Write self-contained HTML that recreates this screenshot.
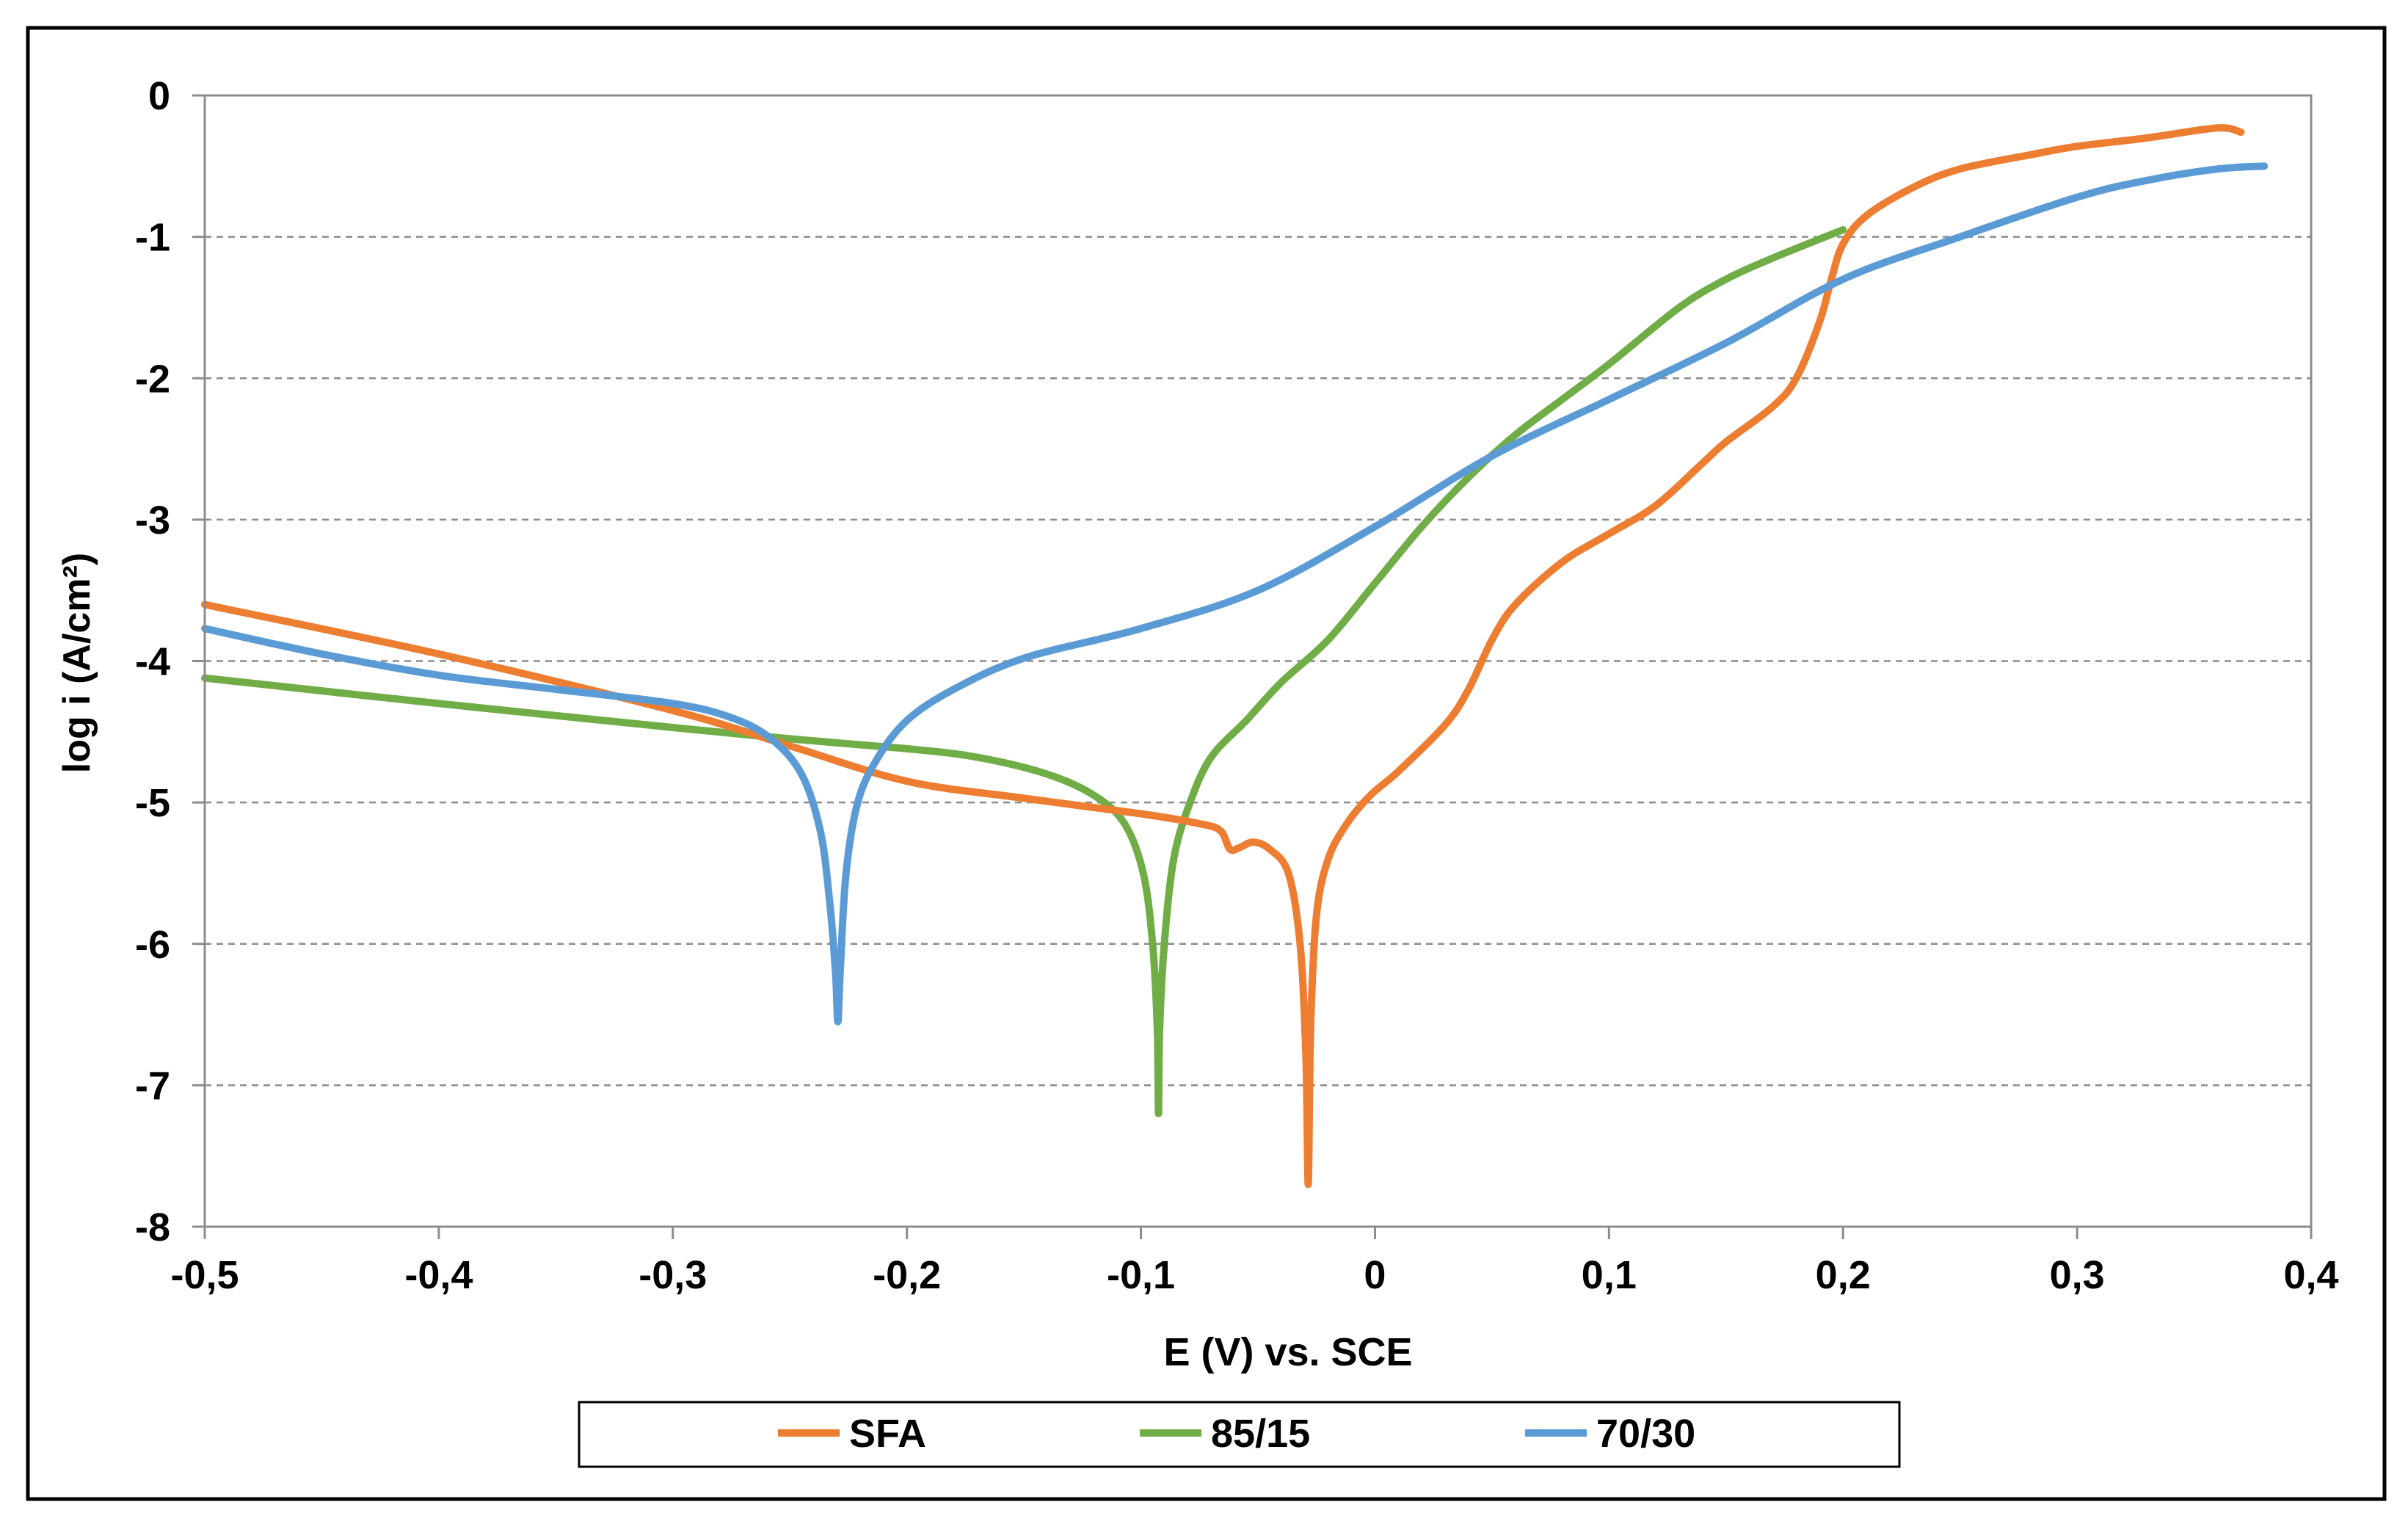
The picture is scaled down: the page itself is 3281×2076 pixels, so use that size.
<!DOCTYPE html>
<html><head><meta charset="utf-8"><style>
html,body{margin:0;padding:0;background:#fff;}
svg{display:block;font-family:"Liberation Sans",Arial,sans-serif;font-weight:bold;}
</style></head><body>
<svg id="chart" width="3281" height="2076" viewBox="0 0 3281 2076">
<rect x="38" y="38" width="3211" height="2004" fill="#fff" stroke="#000" stroke-width="5"/>
<g id="grid"></g>
<g id="series"></g>
<g id="axes"></g>
<text x="1755" y="1860" font-size="54" text-anchor="middle">E (V) vs. SCE</text>
<text transform="translate(122,903) rotate(-90)" font-size="52" text-anchor="middle">log i (A/cm²)</text>
<g>
<rect x="789" y="1910" width="1799" height="88" fill="#fff" stroke="#000" stroke-width="3"/>
<g><line x1="1060" y1="1952" x2="1144" y2="1952" stroke="#ED7D31" stroke-width="10"/><text x="1157" y="1971" font-size="54">SFA</text></g>
<g><line x1="1553" y1="1952" x2="1637" y2="1952" stroke="#70AD47" stroke-width="10"/><text x="1650" y="1971" font-size="54">85/15</text></g>
<g><line x1="2078" y1="1952" x2="2162" y2="1952" stroke="#5B9BD5" stroke-width="10"/><text x="2175" y="1971" font-size="54">70/30</text></g>
</g>
</svg>
<script>
const xTicks=[-0.5,-0.4,-0.3,-0.2,-0.1,0,0.1,0.2,0.3,0.4];
const xTickLabels=["-0,5","-0,4","-0,3","-0,2","-0,1","0","0,1","0,2","0,3","0,4"];
const yTicks=[0,-1,-2,-3,-4,-5,-6,-7,-8];
const sfaE=[-0.5,-0.4,-0.3,-0.25,-0.2,-0.15,-0.1,-0.075,-0.066,-0.062,-0.058,-0.052,-0.045,-0.037,-0.032,-0.0295,-0.0285,-0.0275,-0.025,-0.02,-0.012,-0.002,0.01,0.03,0.04,0.05,0.06,0.08,0.1,0.12,0.14,0.15,0.17,0.18,0.19,0.195,0.2,0.21,0.23,0.25,0.28,0.3,0.33,0.36,0.37];
const sfaLogI=[-3.6,-3.95,-4.35,-4.6,-4.85,-4.97,-5.08,-5.15,-5.2,-5.33,-5.32,-5.28,-5.33,-5.5,-6.0,-6.8,-7.7,-6.6,-5.8,-5.4,-5.15,-4.95,-4.78,-4.45,-4.2,-3.85,-3.6,-3.3,-3.1,-2.9,-2.6,-2.45,-2.2,-2.0,-1.6,-1.3,-1.05,-0.85,-0.65,-0.52,-0.42,-0.36,-0.3,-0.23,-0.26];
const g85E=[-0.5,-0.4,-0.3,-0.25,-0.2,-0.17,-0.14,-0.12,-0.107,-0.099,-0.095,-0.093,-0.0925,-0.092,-0.09,-0.086,-0.079,-0.07,-0.055,-0.04,-0.02,0,0.02,0.04,0.06,0.08,0.1,0.13,0.15,0.17,0.2];
const g85LogI=[-4.12,-4.3,-4.47,-4.55,-4.62,-4.68,-4.8,-4.95,-5.15,-5.5,-6.0,-6.6,-7.2,-6.6,-6.0,-5.4,-5.0,-4.68,-4.42,-4.15,-3.85,-3.45,-3.05,-2.7,-2.4,-2.15,-1.9,-1.5,-1.3,-1.15,-0.95];
const b70E=[-0.5,-0.45,-0.4,-0.35,-0.3,-0.275,-0.258,-0.245,-0.237,-0.233,-0.2305,-0.2295,-0.2285,-0.226,-0.221,-0.213,-0.2,-0.18,-0.15,-0.1,-0.05,0,0.05,0.1,0.15,0.2,0.25,0.3,0.33,0.36,0.38];
const b70LogI=[-3.77,-3.95,-4.1,-4.2,-4.3,-4.4,-4.55,-4.8,-5.2,-5.7,-6.2,-6.55,-6.2,-5.5,-5.0,-4.7,-4.42,-4.2,-3.98,-3.77,-3.5,-3.05,-2.55,-2.15,-1.75,-1.3,-1.0,-0.72,-0.6,-0.52,-0.5];

const L=279,R=3149,T=130,B=1671;
const sx=v=>L+(v+0.5)/0.9*(R-L);
const sy=v=>T+(-v)/8*(B-T);
const NS="http://www.w3.org/2000/svg";
function mk(tag,attrs,parent){const e=document.createElementNS(NS,tag);for(const k in attrs)e.setAttribute(k,attrs[k]);parent.appendChild(e);return e;}
const grid=document.getElementById('grid'),axes=document.getElementById('axes'),ser=document.getElementById('series');
yTicks.forEach(v=>{
  if(v!==0&&v!==-8){const l=mk('line',{x1:L,x2:R,y1:sy(v),y2:sy(v),stroke:'#8c8c8c','stroke-width':2.5,'stroke-dasharray':'9,7'},grid);
  
  }
  const t=mk('text',{x:232,y:sy(v)+19,'font-size':54,'text-anchor':'end'},axes);t.textContent=String(v);
  
  
  const tk=mk('line',{x1:L-17,x2:L,y1:sy(v),y2:sy(v),stroke:'#8c8c8c','stroke-width':3},axes);
  
  
});
const frame=mk('rect',{x:L,y:T,width:R-L,height:B-T,fill:'none',stroke:'#8c8c8c','stroke-width':3},axes);


xTicks.forEach((v,i)=>{
  const tk=mk('line',{x1:sx(v),x2:sx(v),y1:B,y2:B+17,stroke:'#8c8c8c','stroke-width':3},axes);
  
  
  const t=mk('text',{x:sx(v),y:B+84,'font-size':54,'text-anchor':'middle'},axes);t.textContent=xTickLabels[i];
  
  
});
function path(xs,ys){
  const P=xs.map((x,i)=>[sx(x),sy(ys[i])]);
  let d='M'+P[0][0].toFixed(1)+','+P[0][1].toFixed(1);
  for(let i=0;i<P.length-1;i++){
    const p0=P[Math.max(i-1,0)],p1=P[i],p2=P[i+1],p3=P[Math.min(i+2,P.length-1)];
    const t=0.5/3;
    const c1=[p1[0]+(p2[0]-p0[0])*t,p1[1]+(p2[1]-p0[1])*t];
    const c2=[p2[0]-(p3[0]-p1[0])*t,p2[1]-(p3[1]-p1[1])*t];
    d+=' C'+c1.map(v=>v.toFixed(1)).join(',')+' '+c2.map(v=>v.toFixed(1)).join(',')+' '+p2[0].toFixed(1)+','+p2[1].toFixed(1);
  }
  return d;
}
function drawSeries(xs,ys,color,name){
  const p=mk('path',{d:path(xs,ys),fill:'none',stroke:color,'stroke-width':10,'stroke-linejoin':'round','stroke-linecap':'round'},ser);
  
  
}
drawSeries(g85E,g85LogI,'#70AD47','series-85-15');
drawSeries(sfaE,sfaLogI,'#ED7D31','series-sfa');
drawSeries(b70E,b70LogI,'#5B9BD5','series-70-30');
</script>
</body></html>
